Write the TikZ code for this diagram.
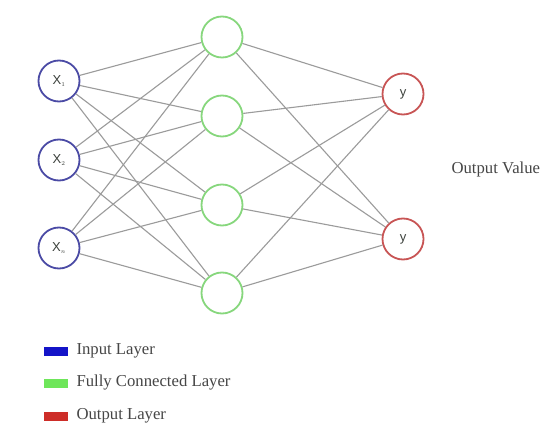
\documentclass[tikz,border=0pt]{standalone}
\usepackage{fontspec}
\setmainfont{Liberation Serif}
\setsansfont{Liberation Sans}
\begin{document}
\begin{tikzpicture}[x=1pt,y=-1pt,
  neuron/.style={circle,minimum size=41pt,inner sep=0pt,line width=1.8pt,fill=white},
  innode/.style={neuron,draw={rgb,255:red,75;green,75;blue,165}},
  hidnode/.style={neuron,draw={rgb,255:red,135;green,215;blue,125}},
  outnode/.style={neuron,draw={rgb,255:red,200;green,85;blue,85}},
  edge/.style={draw={rgb,255:red,155;green,155;blue,155},line width=1.1pt},
  nlabel/.style={font=\sffamily\fontsize{13}{15}\selectfont,text={rgb,255:red,60;green,65;blue,60}},
  legbox/.style={minimum width=24pt,minimum height=9pt,inner sep=0pt},
  legtext/.style={anchor=west,font=\fontsize{16.7}{19}\selectfont,text={rgb,255:red,70;green,70;blue,70}}
]
\useasboundingbox (0,0) rectangle (543,430);
\fill[white] (0,0) rectangle (543,430);
% nodes
\node[innode] (i1) at (59,81) {};
\node[innode] (i2) at (59,160) {};
\node[innode] (i3) at (59,248) {};
\node[hidnode] (h1) at (222,37) {};
\node[hidnode] (h2) at (222,116) {};
\node[hidnode] (h3) at (222,205) {};
\node[hidnode] (h4) at (222,293) {};
\node[outnode] (o1) at (403,94) {};
\node[outnode] (o2) at (403,239) {};
% edges
\foreach \i in {i1,i2,i3}{\foreach \h in {h1,h2,h3,h4}{\path[edge] (\i) -- (\h);}}
\foreach \h in {h1,h2,h3,h4}{\foreach \o in {o1,o2}{\path[edge] (\h) -- (\o);}}
% labels
\node[nlabel] (l1) at (i1) {X$_{\scriptscriptstyle 1}$};
\node[nlabel] (l2) at (i2) {X$_{\scriptscriptstyle 2}$};
\node[nlabel] (l3) at (i3) {X$_{\scriptscriptstyle n}$};
\node[nlabel] (ly1) at (o1) {y};
\node[nlabel] (ly2) at (o2) {y};
\node[legtext] (ov) at (448,169) {Output Value};
% legend
\node[legbox,fill={rgb,255:red,20;green,20;blue,200}] (b1) at (56,351) {};
\node[legbox,fill={rgb,255:red,110;green,230;blue,90}] (b2) at (56,383) {};
\node[legbox,fill={rgb,255:red,205;green,45;blue,40}] (b3) at (56,416) {};
\node[legtext] (t1) at (73,351) {Input Layer};
\node[legtext] (t2) at (73,383) {Fully Connected Layer};
\node[legtext] (t3) at (73,416) {Output Layer};
\end{tikzpicture}
\end{document}
